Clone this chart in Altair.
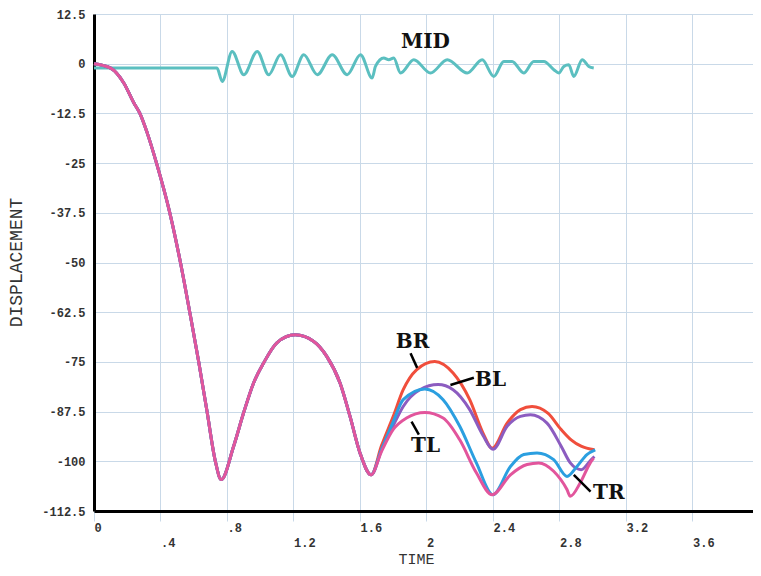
import altair as alt
import pandas as pd

# ---- data ----
T_COMMON = [0, 0.1, 0.18, 0.24, 0.276, 0.32, 0.376, 0.456, 0.52, 0.576, 0.63, 0.68, 0.73,
            0.765, 0.84, 0.90, 0.96, 1.02, 1.10, 1.21, 1.32, 1.40, 1.48, 1.54, 1.60, 1.667]
D_COMMON = [0, -1.1, -4.9, -9.9, -12.5, -17.4, -25, -37.5, -50, -62.5, -75, -87.5, -100,
            -104.6, -96.2, -87.8, -80.3, -75.3, -70.2, -68.2, -69.8, -73.6, -80.3, -88.7, -97.9, -103.4]

T_BR = [1.73, 1.80, 1.86, 1.94, 2.05, 2.16, 2.26, 2.34, 2.395, 2.485, 2.565, 2.635, 2.73, 2.81, 2.87, 2.93, 3.01]
D_BR = [-96.0, -88.7, -82.0, -77.0, -74.9, -77.8, -84.5, -92.9, -96.7, -90.4, -87.0, -86.2, -87.9, -92.0, -94.6, -96.2, -97.1]

T_BL = [1.73, 1.80, 1.86, 1.96, 2.07, 2.16, 2.26, 2.34, 2.40, 2.485, 2.565, 2.625, 2.725, 2.81, 2.865, 2.93, 2.99, 3.01]
D_BL = [-97.0, -91.0, -86.2, -82.0, -80.7, -82.0, -87.0, -93.5, -97.0, -91.2, -88.7, -88.3, -90.4, -96.2, -100.4, -102.1, -99.6, -98.8]

T_TR = [1.73, 1.80, 1.86, 1.99, 2.10, 2.20, 2.30, 2.40, 2.505, 2.585, 2.665, 2.765, 2.845, 2.905, 2.965, 3.015]
D_TR = [-97.0, -90.0, -84.5, -81.8, -84.5, -91.2, -100.4, -108.4, -101.3, -98.3, -97.9, -99.6, -103.8, -101.3, -98.3, -97.1]

T_TL = [1.73, 1.80, 1.88, 1.99, 2.10, 2.20, 2.30, 2.395, 2.505, 2.605, 2.675, 2.765, 2.845, 2.865, 2.925, 2.985, 3.005]
D_TL = [-97.5, -92.0, -89.1, -87.7, -89.1, -94.6, -102.9, -108.4, -103.4, -100.8, -100.4, -102.5, -107.1, -108.8, -105.4, -100.4, -99.2]

T_MID = [0, 0.74, 0.771, 0.831, 0.901, 0.982, 1.051, 1.122, 1.192, 1.262, 1.343, 1.433, 1.523, 1.603,
         1.673, 1.693, 1.743, 1.773, 1.803, 1.844, 1.924, 2.024, 2.125, 2.245, 2.335, 2.405, 2.465,
         2.515, 2.585, 2.645, 2.706, 2.766, 2.796, 2.826, 2.856, 2.886, 2.937, 2.976, 3.006]
D_MID = [-1.1, -1.1, -4.45, 3.09, -2.77, 3.09, -2.77, 2.26, -3.19, 2.26, -2.77, 2.26, -2.77, 2.26,
         -3.6, -0.68, 1.43, 1.0, 1.43, -2.34, 1.0, -2.34, 1.0, -2.34, 1.0, -3.19, 0.58,
         0.58, -2.34, 0.58, 0.58, -1.51, -2.34, -0.68, -0.25, -3.19, 1.0, -0.68, -1.08]

SERIES = ["MID", "BR", "BL", "TR", "TL"]
COLORS = ["#5bbfc0", "#f04e3c", "#8c5cc0", "#2b9fe0", "#e2559c"]

LABELS = ["MID", "BR", "BL", "TL", "TR"]
LABEL_T = [1.994, 1.916, 2.385, 1.994, 3.097]
LABEL_D = [5.5, -69.9, -79.5, -96.2, -108.0]

LEADER_T1 = [1.904, 2.285, 1.954, 2.987]
LEADER_D1 = [-72.8, -79.0, -93.3, -107.6]
LEADER_T2 = [1.944, 2.144, 1.910, 2.886]
LEADER_D2 = [-76.5, -80.8, -90.0, -103.4]

X_TICKS = [0, 0.4, 0.8, 1.2, 1.6, 2.0, 2.4, 2.8, 3.2, 3.6]
Y_TICKS = [12.5, 0, -12.5, -25, -37.5, -50, -62.5, -75, -87.5, -100, -112.5]

# ---- build tables ----
series_data = {
    "MID": (T_MID, D_MID),
    "BR": (T_COMMON + T_BR, D_COMMON + D_BR),
    "BL": (T_COMMON + T_BL, D_COMMON + D_BL),
    "TR": (T_COMMON + T_TR, D_COMMON + D_TR),
    "TL": (T_COMMON + T_TL, D_COMMON + D_TL),
}

MONO = "Liberation Mono"
GRID = "#c9d9e8"
x_scale = alt.Scale(domain=[0, 3.964], nice=False, zero=False)
y_scale = alt.Scale(domain=[-112.5, 12.5], nice=False, zero=False)

LBL = "(datum.value > 0 && datum.value < 1 ? slice('' + datum.value, 1) : '' + datum.value)"
x_axis = alt.Axis(
    values=X_TICKS, title="TIME", grid=True, gridColor=GRID, gridWidth=1,
    domainColor="black", domainWidth=3, ticks=True, tickColor=GRID, tickSize=10,
    labelExpr=f"(round(datum.value*10) % 8 == 4) ? ['', {LBL}] : {LBL}",
    labelAlign="left", labelBaseline="top", labelLineHeight=15, labelPadding=1,
    labelFont=MONO, labelFontSize=12, labelFontWeight="bold", labelColor="#333333",
    labelFlush=False, labelOverlap=False, labelBound=False,
    titleFont=MONO, titleFontSize=15, titleFontWeight="normal", titleColor="#333333",
    titleX=322, titleY=47, titleAlign="center", titleBaseline="middle",
)
y_axis = alt.Axis(
    values=Y_TICKS, title="DISPLACEMENT", grid=True, gridColor=GRID, gridWidth=1,
    domainColor="black", domainWidth=3, ticks=False,
    labelExpr="'' + datum.value", labelPadding=9,
    labelFont=MONO, labelFontSize=12, labelFontWeight="bold", labelColor="#333333",
    labelFlush=False, labelOverlap=False, labelBound=False,
    titleFont=MONO, titleFontSize=18, titleFontWeight="normal", titleColor="#333333",
    titleX=-78, titleY=248, titleAngle=270, titleAlign="center", titleBaseline="middle",
)

layers = []
for i, name in enumerate(SERIES):
    t, d = series_data[name]
    df = pd.DataFrame({"time": t, "disp": d})
    layers.append(
        alt.Chart(df).mark_line(color=COLORS[i], strokeWidth=3, interpolate="monotone")
        .encode(x=alt.X("time:Q", scale=x_scale, axis=x_axis),
                y=alt.Y("disp:Q", scale=y_scale, axis=y_axis))
    )

lead_df = pd.DataFrame({"time": LEADER_T1, "disp": LEADER_D1, "t2": LEADER_T2, "d2": LEADER_D2})
leaders = alt.Chart(lead_df).mark_rule(color="black", strokeWidth=2.5).encode(
    x=alt.X("time:Q", scale=x_scale, axis=x_axis),
    y=alt.Y("disp:Q", scale=y_scale, axis=y_axis),
    x2="t2:Q", y2="d2:Q",
)

lab_df = pd.DataFrame({"label": LABELS, "time": LABEL_T, "disp": LABEL_D})
texts = alt.Chart(lab_df).mark_text(
    font="DejaVu Serif", fontSize=20, fontWeight="bold", color="#111111",
    align="center", baseline="middle",
).encode(x=alt.X("time:Q", scale=x_scale, axis=x_axis),
         y=alt.Y("disp:Q", scale=y_scale, axis=y_axis), text="label:N")

chart = alt.layer(*layers, leaders, texts).properties(
    width=659, height=497,
    padding={"left": 86, "top": 6, "right": 0, "bottom": 57},
    autosize=alt.AutoSizeParams(type="none"),
    background="white",
).configure_view(stroke=None)

chart.save("out.html", embed_options={"renderer": "svg", "actions": False})
